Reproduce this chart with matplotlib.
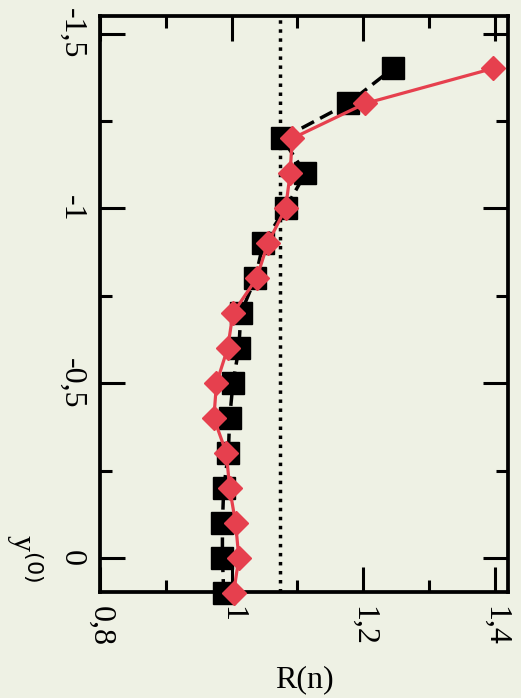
import matplotlib
matplotlib.use('Agg')
import matplotlib.pyplot as plt

# y^(0) positions of the points (vertical axis, inverted)
y0 = [0.1, 0.0, -0.1, -0.2, -0.3, -0.4, -0.5, -0.6, -0.7, -0.8,
      -0.9, -1.0, -1.1, -1.2, -1.3, -1.4]
# black squares (dashed line)
r_black = [0.988, 0.986, 0.986, 0.988, 0.995, 0.997, 1.002, 1.011, 1.014, 1.036,
           1.048, 1.082, 1.112, 1.077, 1.177, 1.245]
# red diamonds (solid line)
r_red = [1.003, 1.011, 1.006, 0.997, 0.992, 0.973, 0.977, 0.994, 1.002, 1.038,
         1.055, 1.082, 1.089, 1.092, 1.203, 1.397]
r_ref = 1.073

xticks = [0.8, 1.0, 1.2, 1.4]
xtick_labels = ["0,8", "1", "1,2", "1,4"]
xminor = [0.9, 1.1, 1.3]
yticks = [0.0, -0.5, -1.0, -1.5]
ytick_labels = ["0", "-0,5", "-1", "-1,5"]
yminor = [-0.25, -0.75, -1.25]

bg = "#eef1e4"
red = "#e6404e"
plt.rcParams['font.family'] = ['Liberation Serif', 'DejaVu Serif']

fig = plt.figure(figsize=(5.21, 6.98), dpi=100, facecolor=bg)
ax = fig.add_axes([0.192, 0.152, 0.783, 0.825])
ax.set_facecolor(bg)

ax.axvline(r_ref, color="black", lw=2.5, linestyle=(0, (1, 1.6)), zorder=1)
ax.plot(r_black, y0, color="black", lw=2.5, dashes=(4, 2), marker="s", ms=15.5,
        mec="black", mfc="black", clip_on=False, zorder=2)
ax.plot(r_red, y0, color=red, lw=2.3, marker="D", ms=12.5, mec=red, mfc=red,
        clip_on=False, zorder=3)

ax.set_xlim(0.8, 1.42)
ax.set_ylim(0.097, -1.55)

ax.set_xticks(xticks)
ax.set_xticklabels(xtick_labels, rotation=-90, fontsize=23)
ax.set_xticks(xminor, minor=True)
ax.set_yticks(yticks)
ax.set_yticklabels(ytick_labels, rotation=-90, fontsize=23, va="center")
ax.set_yticks(yminor, minor=True)

ax.tick_params(which="both", direction="in", top=True, right=True, width=2.2, color="black")
ax.tick_params(which="major", length=18, pad=10)
ax.tick_params(which="minor", length=8.5)
for sp in ax.spines.values():
    sp.set_linewidth(2.7)

ax.set_xlabel("R(n)", fontsize=23, va="center")
ax.xaxis.set_label_coords(0.5, -0.153)
ax.set_ylabel("y$^{(0)}$", fontsize=23, rotation=-90, va="center", ha="center")
ax.yaxis.set_label_coords(-0.185, 0.059)

fig.savefig("out.png", dpi=100, facecolor=bg)
